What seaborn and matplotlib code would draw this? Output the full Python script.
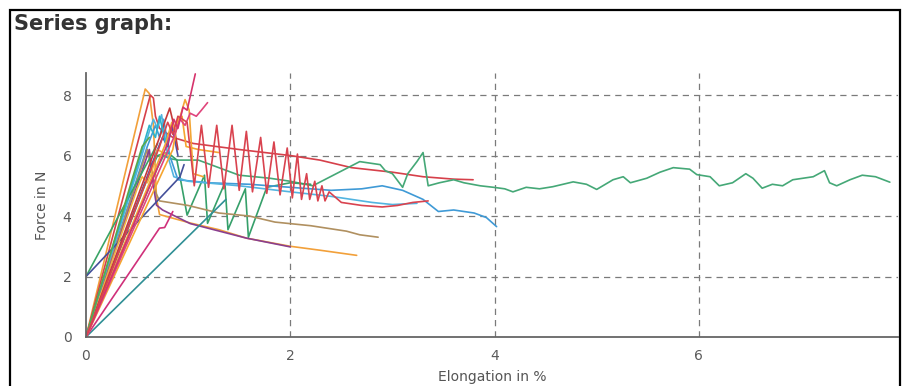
import numpy as np
import pandas as pd
import matplotlib
matplotlib.use("Agg")
import matplotlib.pyplot as plt
from matplotlib.patches import Rectangle
from matplotlib.ticker import MultipleLocator
import seaborn as sns

# ---------------- data ----------------
orange_tall_x = [0, 0.58, 0.62, 0.66, 0.69, 0.72, 1.02, 1.3, 1.57, 2.0, 2.29, 2.65]
orange_tall_y = [0, 8.2, 8.05, 7.0, 4.6, 4.05, 3.77, 3.55, 3.27, 3.0, 2.87, 2.7]

red_upper_x = [0, 0.63, 0.66, 0.68, 0.72, 0.85, 1.05, 1.5, 2.0, 2.29, 2.6, 3.0, 3.3, 3.6, 3.79]
red_upper_y = [0, 8.0, 7.9, 7.3, 6.9, 6.6, 6.4, 6.2, 6.0, 5.85, 5.6, 5.45, 5.3, 5.22, 5.2]

magenta_high_x = [0, 0.8, 0.86, 0.9, 0.95, 0.99, 1.07]
magenta_high_y = [0, 6.4, 7.2, 6.9, 7.6, 7.5, 8.7]

pink_x = [0, 0.86, 0.92, 0.97, 1.02, 1.08, 1.13, 1.19]
pink_y = [0, 6.6, 7.2, 7.0, 7.4, 7.3, 7.5, 7.75]

orange2_x = [0, 0.78, 0.84, 0.88, 0.97, 1.01, 1.05, 1.15]
orange2_y = [0, 6.4, 7.1, 6.8, 7.85, 7.5, 5.4, 5.3]

red_saw_x = [0, 0.72, 0.8, 0.85, 0.9, 0.99, 1.06, 1.13, 1.2, 1.28, 1.35, 1.43, 1.5,
             1.57, 1.63, 1.71, 1.77, 1.84, 1.9, 1.97, 2.02, 2.07, 2.11, 2.16, 2.19,
             2.24, 2.27, 2.31, 2.34, 2.38, 2.5, 2.7, 2.9, 3.05, 3.2, 3.35]
red_saw_y = [0, 6.3, 7.1, 6.7, 7.3, 7.1, 5.0, 7.0, 4.95, 7.0, 4.9, 7.0, 4.85,
             6.8, 4.8, 6.6, 4.75, 6.45, 4.7, 6.25, 4.6, 6.05, 4.55, 5.4, 4.55,
             5.15, 4.5, 5.0, 4.5, 4.8, 4.45, 4.35, 4.3, 4.35, 4.45, 4.5]

blue_x = [0, 0.6, 0.68, 0.72, 0.76, 0.82, 0.9, 1.2, 1.6, 2.0, 2.4, 2.7, 2.9, 3.1,
          3.3, 3.45, 3.6, 3.8, 3.92, 4.02]
blue_y = [0, 6.3, 7.0, 6.6, 7.2, 6.0, 5.2, 5.1, 5.05, 4.95, 4.85, 4.9, 5.0, 4.85,
          4.55, 4.15, 4.2, 4.1, 3.95, 3.65]

lightblue_x = [0, 0.62, 0.66, 0.7, 0.74, 0.8, 0.86, 1.0, 1.5, 2.0, 2.4, 2.8, 3.0, 3.24]
lightblue_y = [0, 6.8, 7.2, 6.9, 7.35, 6.0, 5.3, 5.15, 5.0, 4.8, 4.65, 4.45, 4.38, 4.42]

green_long_x = [0, 0.7, 0.76, 0.82, 0.9, 1.1, 1.3, 1.5, 1.8, 2.0, 2.22, 2.45, 2.68,
                2.88, 2.93, 3.0, 3.1, 3.15, 3.24, 3.3, 3.35, 3.46, 3.6, 3.7, 3.86,
                3.99, 4.1, 4.18, 4.31, 4.44, 4.57, 4.77, 4.9, 5.0, 5.16, 5.26, 5.33,
                5.49, 5.62, 5.75, 5.91, 5.98, 6.11, 6.2, 6.33, 6.46, 6.53, 6.62,
                6.72, 6.82, 6.92, 7.12, 7.23, 7.28, 7.35, 7.48, 7.6, 7.73, 7.87]
green_long_y = [0, 5.6, 6.0, 5.9, 5.85, 5.85, 5.6, 5.35, 5.25, 5.15, 5.0, 5.4, 5.8,
                5.7, 5.5, 5.4, 4.95, 5.4, 5.8, 6.1, 5.0, 5.1, 5.2, 5.1, 5.0,
                4.95, 4.9, 4.8, 4.95, 4.9, 4.97, 5.13, 5.05, 4.88, 5.2, 5.3, 5.1,
                5.25, 5.45, 5.6, 5.55, 5.37, 5.3, 5.0, 5.1, 5.4, 5.25, 4.92,
                5.05, 5.0, 5.2, 5.3, 5.5, 5.1, 5.0, 5.2, 5.35, 5.3, 5.12]

green_saw_x = [0, 0.62, 0.7, 0.8, 0.89, 0.99, 1.16, 1.19, 1.36, 1.39, 1.56, 1.59, 1.77, 2.0, 2.2]
green_saw_y = [0, 5.4, 6.0, 6.1, 5.85, 4.03, 5.35, 3.76, 5.1, 3.55, 4.9, 3.3, 4.95, 5.1, 5.05]

brown_x = [0, 0.6, 0.64, 0.68, 0.72, 1.0, 1.3, 1.6, 1.85, 2.2, 2.55, 2.68, 2.86]
brown_y = [0, 6.2, 5.6, 4.8, 4.5, 4.35, 4.1, 4.0, 3.8, 3.68, 3.5, 3.38, 3.3]

purple_x = [0, 0.58, 0.62, 0.66, 0.69, 0.75, 1.02, 1.57, 2.0]
purple_y = [0, 5.8, 6.2, 5.0, 4.36, 4.2, 3.75, 3.27, 2.98]

green_from2_x = [0, 0.63, 0.7]
green_from2_y = [2.0, 5.95, 6.4]

navy_from2_x = [0, 0.88, 0.92, 0.96]
navy_from2_y = [2.0, 5.15, 5.3, 5.7]

teal_low_x = [0, 1.37]
teal_low_y = [0, 4.55]

magenta_low_x = [0, 0.69, 0.72, 0.77, 0.85]
magenta_low_y = [0, 3.45, 3.6, 3.62, 4.15]

darkblue_x = [0, 0.7, 0.75, 0.8, 0.84, 0.9]
darkblue_y = [0, 6.2, 6.6, 6.3, 7.0, 6.0]

yellow_x = [0, 0.5, 0.55, 0.6, 0.64, 0.7, 0.8]
yellow_y = [0, 4.9, 5.3, 5.1, 5.4, 6.2, 6.0]

red2_x = [0, 0.72, 0.78, 0.82, 0.86, 0.9]
red2_y = [0, 6.6, 7.2, 7.57, 7.0, 6.2]

cyan_x = [0, 0.55, 0.62, 0.68, 0.72, 0.78]
cyan_y = [0, 6.2, 7.0, 6.6, 7.3, 6.4]

olive_x = [0, 0.45, 0.55, 0.62]
olive_y = [0, 5.2, 6.3, 6.6]

orange3_x = [0, 0.85, 0.9, 0.94, 0.98, 1.1, 1.3]
orange3_y = [0, 6.2, 7.2, 7.3, 6.3, 6.2, 6.1]

series = {
    "orange_tall": (orange_tall_x, orange_tall_y, "#f2a03a"),
    "red_upper": (red_upper_x, red_upper_y, "#d6404a"),
    "green_long": (green_long_x, green_long_y, "#45a877"),
    "green_saw": (green_saw_x, green_saw_y, "#36a06a"),
    "blue": (blue_x, blue_y, "#3f9ad6"),
    "lightblue": (lightblue_x, lightblue_y, "#52b4e0"),
    "brown": (brown_x, brown_y, "#b09060"),
    "purple": (purple_x, purple_y, "#8a3f8f"),
    "green_from2": (green_from2_x, green_from2_y, "#3aa466"),
    "navy_from2": (navy_from2_x, navy_from2_y, "#44509a"),
    "teal_low": (teal_low_x, teal_low_y, "#2f8f95"),
    "magenta_low": (magenta_low_x, magenta_low_y, "#d0307a"),
    "darkblue": (darkblue_x, darkblue_y, "#4a52a8"),
    "yellow": (yellow_x, yellow_y, "#f0b640"),
    "red2": (red2_x, red2_y, "#c43a3a"),
    "cyan": (cyan_x, cyan_y, "#2db2c9"),
    "olive": (olive_x, olive_y, "#5aa84a"),
    "orange3": (orange3_x, orange3_y, "#f5a530"),
    "orange2": (orange2_x, orange2_y, "#f3a535"),
    "pink": (pink_x, pink_y, "#e0457b"),
    "magenta_high": (magenta_high_x, magenta_high_y, "#d6336c"),
    "red_saw": (red_saw_x, red_saw_y, "#d9434f"),
}

frames = []
for name, (xs, ys, _c) in series.items():
    frames.append(pd.DataFrame({"x": xs, "y": ys, "series": name}))
df = pd.concat(frames, ignore_index=True)
palette = {name: c for name, (_x, _y, c) in series.items()}

# ---------------- figure ----------------
sns.set_style("white")
plt.rcParams["font.family"] = ["DejaVu Sans"]

fig = plt.figure(figsize=(9.03, 3.86), dpi=100)
ax = fig.add_axes([86 / 903, 49 / 386, 812 / 903, 264 / 386])

sns.lineplot(data=df, x="x", y="y", hue="series", palette=palette, sort=False,
             estimator=None, units="series", legend=False, linewidth=1.2, ax=ax)

ax.set_xlim(0, 7.95)
ax.set_ylim(0, 8.73)

ax.xaxis.set_major_locator(MultipleLocator(2))
ax.xaxis.set_minor_locator(MultipleLocator(0.5))
ax.yaxis.set_major_locator(MultipleLocator(2))
ax.yaxis.set_minor_locator(MultipleLocator(0.5))

gridc = "#7a7a7a"
for gx in [2, 4, 6]:
    ax.axvline(gx, color=gridc, lw=0.9, ls=(0, (5, 4)), zorder=0)
for gy in [2, 4, 6, 8]:
    ax.axhline(gy, color=gridc, lw=0.9, ls=(0, (5, 4)), zorder=0)

for s in ["top", "right"]:
    ax.spines[s].set_visible(False)
for s in ["left", "bottom"]:
    ax.spines[s].set_color("#666666")
    ax.spines[s].set_linewidth(1.3)

ax.tick_params(axis="both", which="both", direction="inout", length=9, width=1.0,
               color="#666666", labelcolor="#5a5a5a", labelsize=10)
ax.tick_params(axis="y", which="both", pad=6)
ax.tick_params(axis="x", which="both", pad=4)

ax.set_xlabel("Elongation in %", fontsize=10, color="#555555", labelpad=5)
ax.set_ylabel("Force in N", fontsize=10, color="#555555", labelpad=10)

# outer frame and title
fig.add_artist(Rectangle((10 / 903, -0.02), 890 / 903, 1 - 10 / 386 + 0.02,
                         transform=fig.transFigure, fill=False, ec="black", lw=1.6))
fig.text(14 / 903, 1 - 24 / 386, "Series graph:", fontsize=15, fontweight="bold",
         color="#333333", va="center", ha="left")

fig.savefig("out.png", dpi=100)
